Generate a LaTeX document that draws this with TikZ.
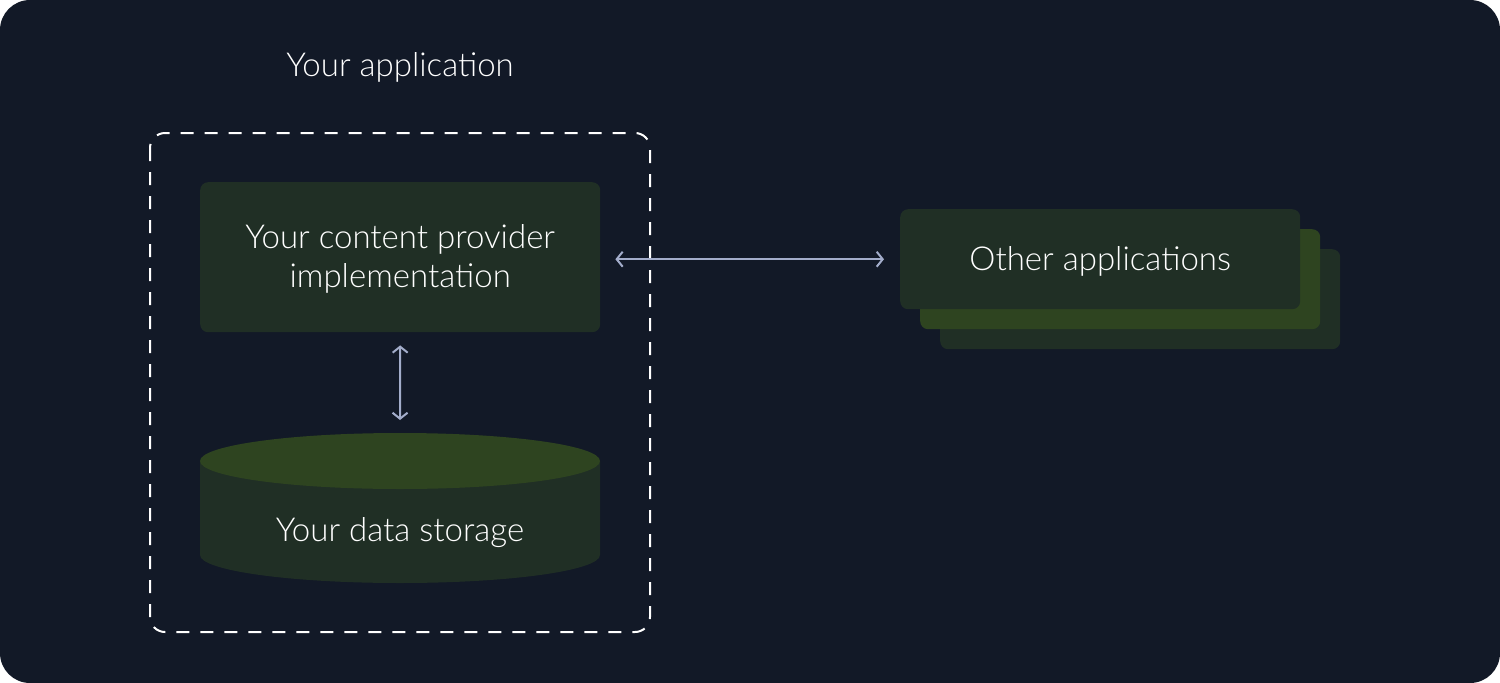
\documentclass[tikz,border=0pt]{standalone}
\usepackage{fontspec}
\setmainfont{Lato Light}
\usetikzlibrary{arrows.meta}

\definecolor{bgnavy}{HTML}{121927}
\definecolor{boxgreen}{HTML}{202F25}
\definecolor{topgreen}{HTML}{2E4420}
\definecolor{linkgray}{HTML}{A3ADCB}

\begin{document}
\begin{tikzpicture}[x=1pt, y=-1pt,
	label/.style={text=white, font=\fontsize{33}{39}\selectfont, align=center},
	block/.style={fill=boxgreen, rounded corners=8pt, inner sep=0pt, anchor=north west},
	link/.style={linkgray, line width=2pt, {Straight Barb[length=6pt,width=15pt]}-{Straight Barb[length=6pt,width=15pt]}}]
\useasboundingbox (0,0) rectangle (1500,683);
\fill[bgnavy, rounded corners=30pt] (0,0) rectangle (1500,683);

\node[label] (apptitle) at (400,67) {Your application};
\draw[white, line width=2pt, dash pattern=on 13pt off 11pt, rounded corners=15pt] (150,133) rectangle (650,632);

% content provider
\node[block, minimum width=400pt, minimum height=150pt] (impl) at (200,182) {};
\node[label] (impltext) at ([yshift=-2pt]impl.center) {Your content provider\\implementation};

% data storage
\fill[boxgreen] (200,461) -- (200,555) arc[start angle=180, end angle=360, x radius=200pt, y radius=28pt] -- (600,461) -- cycle;
\fill[topgreen] (400,461) ellipse[x radius=200pt, y radius=28pt];
\coordinate (storetop) at (400,433);
\node[label] (storage) at (400,533) {Your data storage};

% other applications
\foreach \i/\c in {2/boxgreen,1/topgreen,0/boxgreen}
	\node[block, fill=\c, minimum width=400pt, minimum height=100pt] (other\i) at (900+20*\i,209+20*\i) {};
\node[label] (othertext) at ([yshift=-2pt]other0.center) {Other applications};

\draw[link, shorten <=13pt, shorten >=13pt] (impl.south) -- (storetop);
\draw[link, shorten <=15pt, shorten >=16pt] (impl.east |- other0.west) -- (other0.west);
\end{tikzpicture}
\end{document}
